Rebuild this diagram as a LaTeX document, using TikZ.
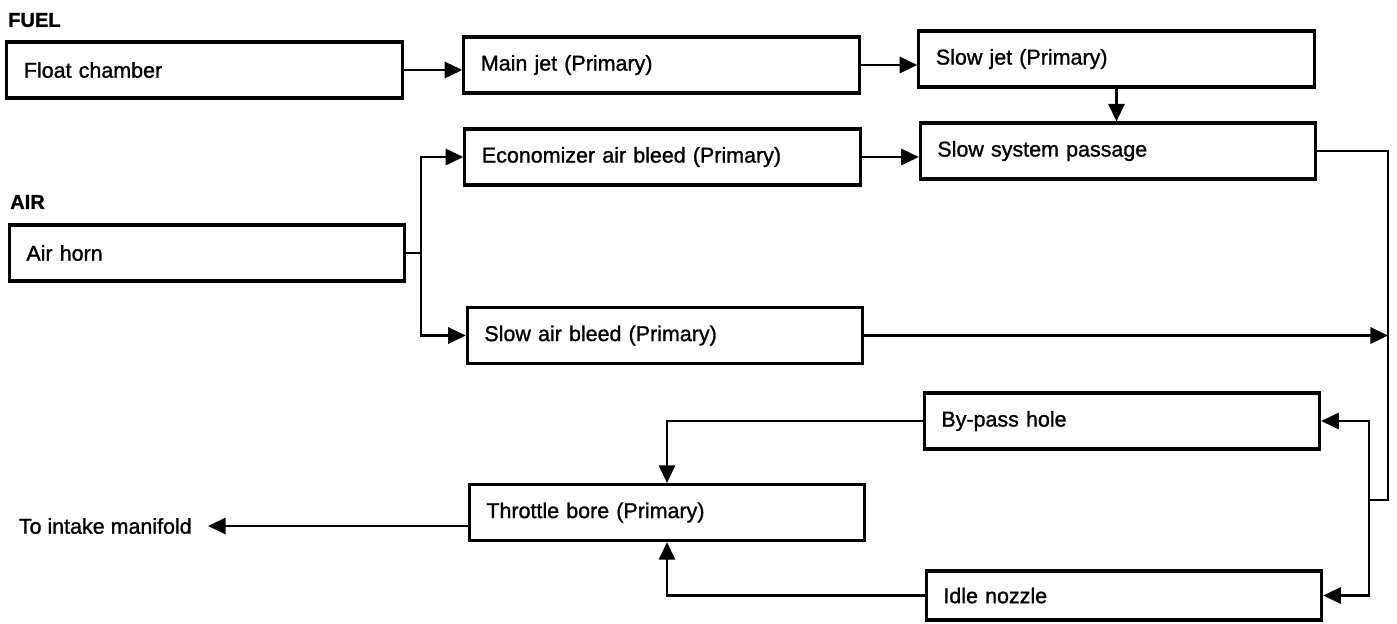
\documentclass[tikz,border=0pt]{standalone}
\usepackage{fontspec}
\setmainfont{Liberation Sans}[FakeBold=1.2]
\usepackage{tikz}
\usetikzlibrary{arrows.meta}

\begin{document}
\begin{tikzpicture}[x=0.01cm,y=-0.01cm,>={Triangle[length=5pt,width=4.6pt]},
	line width=0.7pt,
	part node/.style={rectangle,draw,line width=0.9pt,text width=3.61cm,inner xsep=0.17cm,
		minimum height=0.56cm,align=left,font=\fontsize{6.1}{7}\selectfont},
	group node/.style={inner sep=0pt,font=\fontsize{5.7}{7}\selectfont\bfseries}]

	\useasboundingbox (0,0) rectangle (1397,623);

	\node[group node,anchor=west] (fuel) at (7,20) {FUEL};
	\node[group node,anchor=west] (air) at (9,202) {AIR};

	% fuel side
	\node[part node] (float) at (204.5,70) {Float chamber};
	\node[part node] (main) at (661.5,65) {Main jet (Primary)};
	\node[part node] (slowjet) at (1116.5,59) {Slow jet (Primary)};
	\node[part node] (slowsys) at (1118,151) {Slow system passage};

	% air side
	\node[part node] (airhorn) at (207,253) {Air horn};
	\node[part node] (econ) at (662.5,157) {Economizer air bleed (Primary)};
	\node[part node] (slowair) at (665,335.5) {Slow air bleed (Primary)};

	% outlets
	\node[part node] (bypass) at (1122,421) {By-pass hole};
	\node[part node,minimum height=0.49cm] (idle) at (1124,595.5) {Idle nozzle};
	\node[part node] (throttle) at (667,512.5) {Throttle bore (Primary)};
	\node[inner xsep=0.15cm,inner ysep=0pt,anchor=east,font=\fontsize{6.1}{7}\selectfont]
		(outlet) at (208,526) {To intake manifold};

	\coordinate (split) at (421,253);
	\coordinate (trunk) at (1388,500);
	\coordinate (fork) at (1369,500);

	\draw[->] (float) -- (float -| main.west);
	\draw[->] (main) -- (main -| slowjet.west);
	\draw[->] (slowjet) -- (slowjet |- slowsys.north);
	\draw[->] (econ) -- (econ -| slowsys.west);

	\draw (airhorn.east) -- (split);
	\draw[->] (split) |- (econ.west);
	\draw[->] (split) |- (slowair.west);

	\draw (slowsys.east) -| (trunk) -- (fork);
	\draw[->] (slowair) -- (slowair -| trunk);
	\draw[->] (fork) |- (bypass.east);
	\draw[->] (fork) |- (idle.east);

	\draw[->] (bypass.west) -| (throttle.north);
	\draw[->] (idle.west) -| (throttle.south);
	\draw[->] (throttle.west |- outlet.east) -- (outlet.east);
\end{tikzpicture}
\end{document}
